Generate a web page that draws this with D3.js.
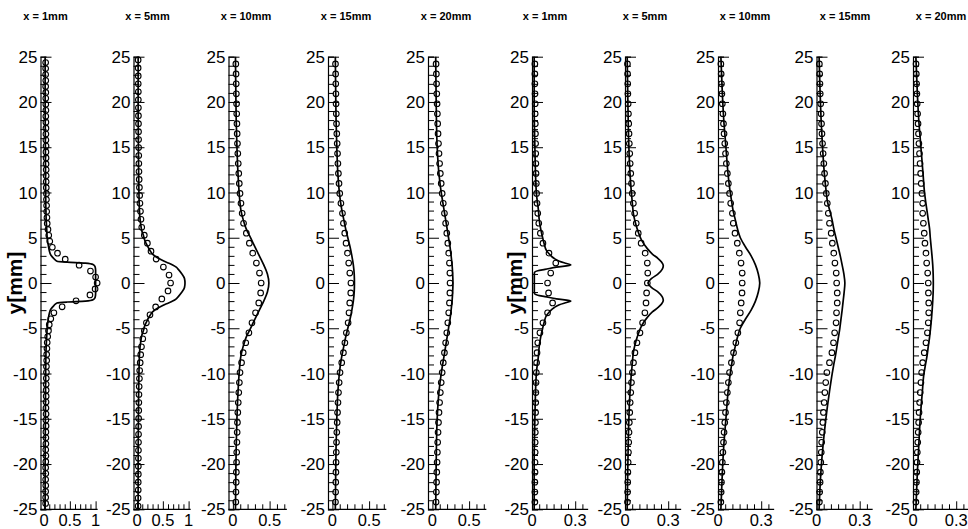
<!DOCTYPE html>
<html><head><meta charset="utf-8">
<script src="https://cdn.jsdelivr.net/npm/d3@7"></script>
<style>body{margin:0;background:#fff} svg text{font-family:"Liberation Sans",Arial,Helvetica,sans-serif;fill:#000}</style>
</head><body><svg id="c" width="968" height="529"></svg>
<script>
// ---------------- data ----------------
const titles = ["x = 1mm","x = 5mm","x = 10mm","x = 15mm","x = 20mm","x = 1mm","x = 5mm","x = 10mm","x = 15mm","x = 20mm"];
const yTickLabels = [-25,-20,-15,-10,-5,0,5,10,15,20,25];
const xTickLabelsA = [0,0.5,1];
const xTickLabelsB = [0,0.5];
const xTickLabelsC = [0,0.3];
const xDomains = [[-0.07,1.04],[-0.07,1.04],[-0.06,0.735],[-0.06,0.735],[-0.06,0.735],[0,0.39],[0,0.39],[0,0.39],[0,0.39],[0,0.39]];

// circle samples: symmetric y grid (step, half-count), values listed bottom -> top
const circleStep = [0.658,0.88,1.1,1.1,1.1,1.1,1.1,1.1,1.1,1.1];
const circleHalf = [37,28,22,22,22,22,22,22,22,22];
const circ1 = [0.03,0.03,0.03,0.032,0.03,0.033,0.03,0.033,0.035,0.032,0.035,0.035,0.035,0.038,0.035,0.038,0.036,0.038,0.04,0.04,0.04,0.042,0.045,
  0.045,0.05,0.05,0.055,0.06,0.07,0.085,0.10,0.13,0.19,0.35,0.62,0.89,0.99,
  1.03,
  1.0,0.9,0.68,0.41,0.26,0.16,0.11,0.09,0.075,0.06,0.055,0.05,0.048,0.045,
  0.045,0.042,0.04,0.04,0.04,0.038,0.038,0.036,0.038,0.035,0.035,0.036,0.035,0.033,0.035,0.033,0.032,0.033,0.03,0.032,0.03,0.03,0.03];
const circ2 = [0.02,0.02,0.022,0.022,0.024,0.024,0.025,0.026,0.027,0.028,0.029,0.03,0.032,0.034,0.036,
  0.04,0.045,0.05,0.06,0.07,0.085,0.11,0.14,0.18,0.25,0.36,0.48,0.60,
  0.65,
  0.62,0.51,0.37,0.27,0.2,0.14,0.09,0.075,0.065,0.055,0.05,0.045,0.04,
  0.036,0.034,0.032,0.03,0.029,0.028,0.027,0.026,0.025,0.024,0.024,0.022,0.022,0.02,0.02];
const circ3 = [0.04,0.042,0.045,0.047,0.05,0.052,0.055,0.058,0.062,0.067,0.073,0.08,0.088,0.097,0.118,0.14,0.175,0.218,0.26,0.308,0.352,0.378,
  0.385,
  0.362,0.32,0.27,0.224,0.183,0.145,0.126,0.11,0.097,0.087,0.08,0.073,0.067,0.062,0.058,0.055,0.052,0.05,0.047,0.045,0.043,0.04];
const circ4 = [0.042,0.044,0.046,0.048,0.05,0.053,0.056,0.06,0.065,0.07,0.076,0.083,0.092,0.104,0.127,0.15,0.17,0.19,0.214,0.226,0.236,0.25,
  0.252,
  0.237,0.222,0.205,0.186,0.168,0.15,0.137,0.116,0.1,0.09,0.082,0.075,0.07,0.065,0.06,0.056,0.053,0.05,0.048,0.046,0.044,0.042];
const circ5 = [0.05,0.054,0.057,0.06,0.064,0.068,0.072,0.077,0.083,0.09,0.098,0.108,0.12,0.133,0.148,0.164,0.18,0.196,0.21,0.222,0.232,0.238,
  0.24,
  0.238,0.232,0.222,0.21,0.196,0.18,0.164,0.148,0.133,0.12,0.108,0.098,0.09,0.083,0.077,0.072,0.068,0.064,0.06,0.057,0.054,0.05];
const circ6 = [0.02,0.02,0.02,0.021,0.021,0.022,0.022,0.023,0.024,0.025,0.026,0.027,0.028,0.03,0.032,0.035,0.04,0.055,0.076,0.108,0.143,0.115,
  0.108,
  0.13,0.165,0.118,0.076,0.058,0.047,0.04,0.035,0.032,0.03,0.028,0.027,0.026,0.025,0.024,0.023,0.022,0.022,0.021,0.02,0.02,0.02];
const circ7 = [0.017,0.018,0.019,0.02,0.022,0.024,0.026,0.028,0.03,0.033,0.036,0.04,0.045,0.051,0.059,0.069,0.083,0.104,0.122,0.138,0.146,0.15,
  0.155,
  0.158,0.155,0.14,0.112,0.092,0.078,0.067,0.058,0.05,0.045,0.04,0.036,0.033,0.03,0.028,0.026,0.024,0.022,0.02,0.019,0.018,0.017];
const circ8 = [0.02,0.022,0.024,0.027,0.03,0.034,0.038,0.042,0.047,0.052,0.058,0.065,0.072,0.08,0.093,0.108,0.124,0.138,0.15,0.155,0.161,0.167,
  0.168,
  0.168,0.16,0.148,0.134,0.118,0.106,0.1,0.088,0.08,0.072,0.065,0.058,0.052,0.047,0.042,0.038,0.034,0.03,0.027,0.024,0.022,0.02];
const circ9 = [0.02,0.022,0.025,0.027,0.03,0.033,0.036,0.04,0.044,0.048,0.053,0.058,0.064,0.072,0.09,0.107,0.118,0.126,0.136,0.139,0.144,0.144,
  0.14,
  0.137,0.128,0.12,0.11,0.102,0.09,0.082,0.075,0.068,0.062,0.056,0.051,0.046,0.042,0.038,0.035,0.032,0.029,0.026,0.024,0.022,0.02];
const circ10 = [0.02,0.022,0.024,0.026,0.028,0.03,0.033,0.036,0.039,0.042,0.046,0.05,0.055,0.06,0.067,0.078,0.09,0.1,0.106,0.109,0.109,0.107,
  0.106,
  0.102,0.095,0.09,0.083,0.078,0.072,0.067,0.067,0.062,0.057,0.053,0.049,0.045,0.041,0.038,0.035,0.032,0.029,0.027,0.025,0.023,0.021];

// simulation lines: y positions and values
const lineY1 = [-25,-20,-15,-10,-8,-7,-6,-5,-4,-3.4,-2.9,-2.5,-2.2,-2.1,-2.0,-1.85,-1.6,-1.2,0,1.4,1.8,2.05,2.2,2.3,2.4,2.7,3.1,3.6,4.2,5,6,7,8,10,15,20,25];
const lineX1 = [0.02,0.02,0.025,0.03,0.035,0.04,0.05,0.06,0.08,0.1,0.13,0.19,0.25,0.45,0.8,0.95,0.99,1.0,1.0,1.0,0.99,0.95,0.8,0.45,0.25,0.19,0.13,0.1,0.08,0.06,0.05,0.04,0.035,0.03,0.025,0.02,0.02];
const lineY2 = [-25,-20,-15,-12,-9,-7.5,-6.5,-5.8,-5.3,-4.7,-4.2,-3.6,-3.2,-2.85,-2.6,-2.3,-2.0,-1.75,-1.5,-1.0,-0.5,0,0.5,1.0,1.5,1.75,2.0,2.3,2.6,2.85,3.2,3.6,4.2,4.7,5.3,5.8,6.5,7.5,9,12,15,20,25];
const lineX2 = [0.02,0.02,0.025,0.03,0.04,0.05,0.07,0.09,0.12,0.15,0.19,0.25,0.30,0.38,0.46,0.57,0.69,0.76,0.80,0.87,0.92,0.93,0.92,0.87,0.80,0.76,0.69,0.57,0.46,0.38,0.30,0.25,0.19,0.15,0.12,0.09,0.07,0.05,0.04,0.03,0.025,0.02,0.02];
const lineYStd = [-25,-21,-18,-15,-12,-10,-9,-8,-7,-6,-5,-4,-3,-2,-1,0,1,2,3,4,5,6,7,8,9,10,12,15,18,21,25];
const lineX3 = [0.035,0.04,0.045,0.055,0.07,0.085,0.095,0.11,0.14,0.18,0.24,0.30,0.36,0.42,0.47,0.49,0.47,0.42,0.36,0.30,0.24,0.18,0.14,0.11,0.095,0.085,0.07,0.055,0.045,0.04,0.035];
const lineX4 = [0.04,0.045,0.05,0.06,0.075,0.095,0.11,0.13,0.155,0.18,0.21,0.24,0.265,0.285,0.297,0.30,0.297,0.285,0.265,0.24,0.21,0.18,0.155,0.13,0.11,0.095,0.075,0.06,0.05,0.045,0.04];
const lineX5 = [0.045,0.05,0.055,0.065,0.09,0.12,0.14,0.16,0.18,0.2,0.22,0.24,0.255,0.268,0.276,0.28,0.276,0.268,0.255,0.24,0.22,0.2,0.18,0.16,0.14,0.12,0.09,0.065,0.055,0.05,0.045];
const lineY6 = [-25,-20,-15,-10,-8,-7,-6,-5,-4.3,-3.6,-3.2,-2.7,-2.4,-2.15,-2.0,-1.75,-1.5,-1.35,-1.2,-1.0,0,1.0,1.2,1.35,1.5,1.75,2.0,2.15,2.4,2.7,3.2,3.6,4.3,5,6,7,8,10,15,20,25];
const lineX6 = [0.015,0.015,0.02,0.03,0.045,0.05,0.06,0.074,0.085,0.10,0.12,0.155,0.19,0.24,0.27,0.17,0.09,0.04,0.018,0.016,0.016,0.016,0.018,0.04,0.09,0.17,0.27,0.24,0.19,0.155,0.12,0.10,0.085,0.074,0.06,0.05,0.045,0.03,0.02,0.015,0.015];
const lineY7 = [-25,-20,-16,-12,-9,-7.5,-6.5,-5.5,-4.7,-3.8,-3.2,-2.7,-2.3,-1.9,-1.5,-1.0,-0.5,0,0.5,1.0,1.5,1.9,2.3,2.7,3.2,3.8,4.7,5.5,6.5,7.5,9,12,16,20,25];
const lineX7 = [0.015,0.02,0.025,0.035,0.05,0.06,0.075,0.095,0.116,0.155,0.19,0.23,0.255,0.266,0.258,0.23,0.185,0.16,0.185,0.23,0.258,0.266,0.255,0.23,0.19,0.155,0.116,0.095,0.075,0.06,0.05,0.035,0.025,0.02,0.015];
const lineX8 = [0.02,0.03,0.04,0.055,0.07,0.085,0.095,0.105,0.12,0.135,0.155,0.19,0.23,0.26,0.28,0.29,0.28,0.26,0.23,0.19,0.155,0.135,0.12,0.105,0.095,0.085,0.07,0.055,0.04,0.03,0.02];
const lineX9 = [0.018,0.03,0.045,0.065,0.09,0.109,0.12,0.132,0.142,0.152,0.162,0.17,0.178,0.185,0.192,0.197,0.19,0.178,0.165,0.15,0.135,0.12,0.108,0.092,0.076,0.068,0.055,0.042,0.032,0.025,0.018];
const lineX10 = [0.02,0.03,0.04,0.05,0.065,0.076,0.087,0.098,0.106,0.115,0.122,0.128,0.133,0.137,0.14,0.141,0.14,0.137,0.132,0.126,0.12,0.115,0.106,0.097,0.088,0.08,0.07,0.055,0.04,0.03,0.02];

const circles = [circ1,circ2,circ3,circ4,circ5,circ6,circ7,circ8,circ9,circ10];
const lineYs = [lineY1,lineY2,lineYStd,lineYStd,lineYStd,lineY6,lineY7,lineYStd,lineYStd,lineYStd];
const lineXs = [lineX1,lineX2,lineX3,lineX4,lineX5,lineX6,lineX7,lineX8,lineX9,lineX10];

// ---------------- layout ----------------
const axisLeft = [40.5,133.5,228.5,328,428,532,625,718,816.5,913];
const pxPerUnit = [51.5,51.5,73.4,73.4,73.4,144,144,144,144,144];
const titleX = [45.5,147.5,246,346,446,545,645,745,845,941];
const yLabelX = [22,522];

const svg = d3.select("#c");
const y = d3.scaleLinear().domain([-25,25]).range([509.3,56.7]);

titles.forEach((t,i)=>{
  const d = xDomains[i];
  const x = d3.scaleLinear().domain(d).range([axisLeft[i], axisLeft[i] + (d[1]-d[0])*pxPerUnit[i]]);
  const g = svg.append("g");

  // y axis
  const ya = d3.axisRight(y).tickValues(d3.range(-25,26,1)).tickSize(6).tickFormat("");
  const yg = g.append("g").attr("transform",`translate(${axisLeft[i]},0)`).call(ya);
  yg.select(".domain").attr("stroke","#000").attr("stroke-width",1.2);
  yg.selectAll(".tick line").attr("stroke","#000").attr("stroke-width",1)
    .attr("x2", v => (v % 5 === 0) ? 11 : 6);
  g.selectAll(".ylab").data(yTickLabels).join("text")
    .attr("x", axisLeft[i]-3).attr("y", v=>y(v)).attr("dy","0.36em")
    .attr("text-anchor","end").attr("font-size",17).text(v=>v);

  // x axis
  const majorStep = i<5 ? 0.5 : 0.3;
  const minorStep = i<5 ? 0.1 : 0.05;
  const labels = i<2 ? xTickLabelsA : (i<5 ? xTickLabelsB : xTickLabelsC);
  const minorTicks = d3.range(0, d[1]+1e-9, minorStep).map(v=>+v.toFixed(3));
  const xa = d3.axisTop(x).tickValues(minorTicks).tickSize(5).tickFormat("");
  const xg = g.append("g").attr("transform",`translate(0,${y(-25)})`).call(xa);
  xg.select(".domain").remove();
  g.append("line").attr("x1",x(d[0])).attr("x2",x(d[1])).attr("y1",y(-25)).attr("y2",y(-25)).attr("stroke","#000").attr("stroke-width",1.2);
  xg.selectAll(".tick line").attr("stroke","#000").attr("stroke-width",1)
    .attr("y2", v => (Math.abs(v/majorStep - Math.round(v/majorStep))<1e-6) ? -8 : -5);
  g.selectAll(".xlab").data(labels).join("text")
    .attr("x", v=>x(v)).attr("y", 526).attr("text-anchor","middle").attr("font-size",16.5).text(v=>v);

  // title
  g.append("text").attr("x",titleX[i]).attr("y",20).attr("text-anchor","middle")
    .attr("font-size",11).attr("font-weight","bold").text(t);

  // line
  const pts = lineYs[i].map((yy,k)=>[lineXs[i][k], yy]);
  const ln = d3.line().x(p=>x(p[0])).y(p=>y(p[1])).curve(d3.curveMonotoneY);
  g.append("path").attr("d", ln(pts)).attr("fill","none").attr("stroke","#000").attr("stroke-width",1.7);

  // circles
  const n = circleHalf[i], st = circleStep[i];
  const cdata = circles[i].map((v,k)=>({v, yy:(k-n)*st}));
  g.selectAll("circle").data(cdata).join("circle")
    .attr("cx", c=>x(c.v)).attr("cy", c=>y(c.yy)).attr("r",2.8)
    .attr("fill","none").attr("stroke","#000").attr("stroke-width",1.1);
});

yLabelX.forEach(xx=>{
  svg.append("text").attr("transform",`translate(${xx},${y(0)}) rotate(-90)`)
    .attr("text-anchor","middle").attr("font-size",21).attr("font-weight","bold").text("y[mm]");
});
</script>
</body></html>
